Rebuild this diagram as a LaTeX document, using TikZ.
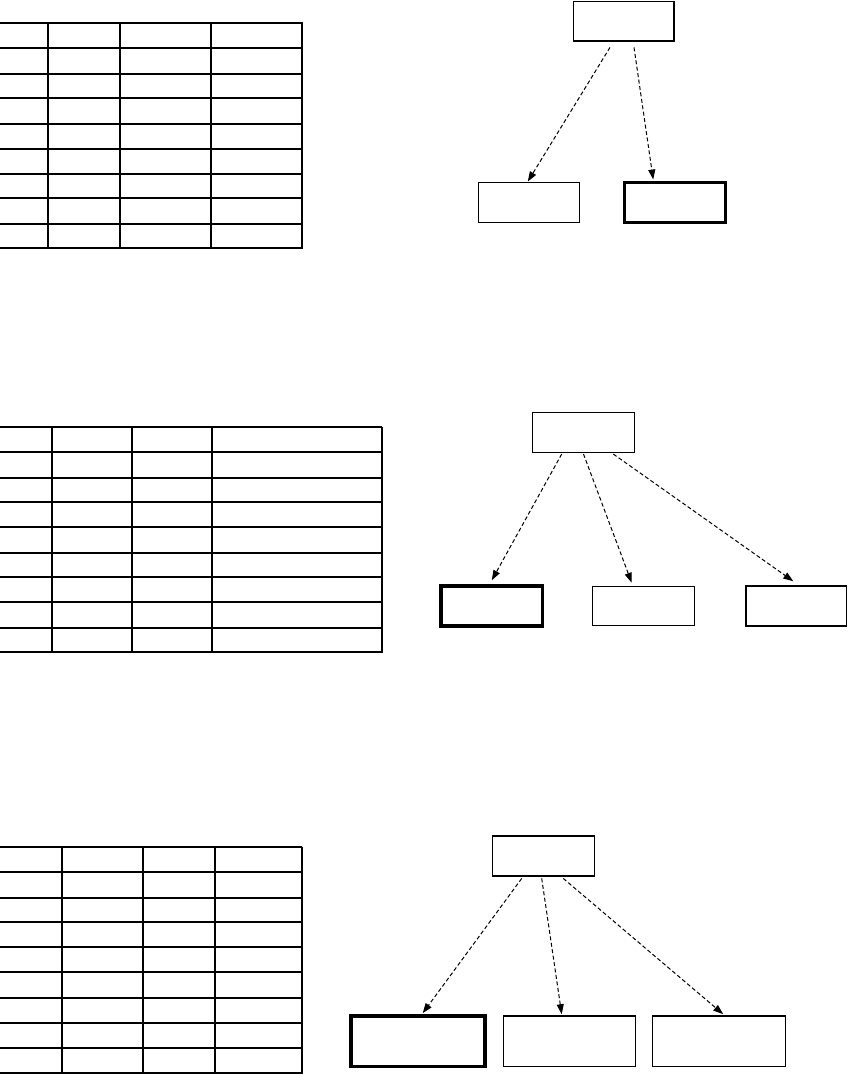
\documentclass[tikz,border=0pt]{standalone}
\usetikzlibrary{arrows.meta}
\begin{document}
\begin{tikzpicture}[x=1pt,y=-1pt,
  box/.style={draw,line width=1.5pt,rectangle,inner sep=0pt},
  thickbox/.style={draw,line width=3.5pt,rectangle,inner sep=0pt},
  arr/.style={line width=1pt,dash pattern=on 4pt off 2.5pt,-{Triangle[length=10pt,width=7pt]}},
  grid/.style={line width=1.7pt},
  edge/.style={line width=2.4pt}]
\useasboundingbox (0,0) rectangle (848,1075);
% ---------- table 1
\foreach \y in {23.3,48.3,74.3,98.3,123.7,149.3,173.7,198.3,224,248.3}
  \draw[grid] (0,\y) -- (301.7,\y);
\foreach \x in {48.3,120.3,211}
  \draw[grid] (\x,23.3) -- (\x,248.3);
\draw[edge] (301.7,22.5) -- (301.7,249.2);
% ---------- table 2
\foreach \y in {427.3,452.3,477.7,502.3,527.3,552.7,577.3,602.3,627.7,651.7}
  \draw[grid] (0,\y) -- (381.7,\y);
\foreach \x in {52.3,132.3,212.3}
  \draw[grid] (\x,427.3) -- (\x,651.7);
\draw[edge] (381.7,426.5) -- (381.7,652.6);
% ---------- table 3
\foreach \y in {847.3,872.3,897.7,922.3,947.3,972.3,997.7,1022.7,1048.3,1073.3}
  \draw[grid] (0,\y) -- (301.7,\y);
\foreach \x in {62.3,143.3,215}
  \draw[grid] (\x,847.3) -- (\x,1073.3);
\draw[edge] (301.7,846.5) -- (301.7,1074.2);
% ---------- tree 1
\node[box,minimum width=100.7pt,minimum height=39.3pt] (r1) at (623.7,21.3) {};
\node[box,minimum width=101pt,minimum height=40.4pt] (c1a) at (528.8,202.5) {};
\node[thickbox,minimum width=101pt,minimum height=40.4pt] (c1b) at (675.2,202.5) {};
\draw[arr] ([xshift=-13.7pt,yshift=-5.7pt]r1.south) -- ([xshift=-1pt]c1a.north);
\draw[arr] ([xshift=10.3pt,yshift=-5.7pt]r1.south) -- ([xshift=-22pt,yshift=1pt]c1b.north);
% ---------- tree 2
\node[box,minimum width=101.6pt,minimum height=40pt] (r2) at (583.5,432.3) {};
\node[thickbox,minimum width=101.7pt,minimum height=40pt] (d1) at (491.8,606) {};
\node[box,minimum width=101.6pt,minimum height=39pt] (d2) at (643.5,606) {};
\node[box,minimum width=100.7pt,minimum height=40pt] (d3) at (796.3,606) {};
\draw[arr] ([xshift=-21.8pt,yshift=-1pt]r2.south) -- ([yshift=4pt]d1.north);
\draw[arr] ([yshift=-1pt]r2.south) -- ([xshift=-11.8pt,yshift=3pt]d2.north);
\draw[arr] ([xshift=29.8pt,yshift=-1pt]r2.south) -- ([xshift=-3pt,yshift=4pt]d3.north);
% ---------- tree 3
\node[box,minimum width=101.6pt,minimum height=40pt] (r3) at (543.5,856) {};
\node[thickbox,minimum width=134pt,minimum height=50.7pt] (e1) at (418,1041.3) {};
\node[box,minimum width=132.4pt,minimum height=50.7pt] (e2) at (569.5,1041.3) {};
\node[box,minimum width=133pt,minimum height=50.7pt] (e3) at (719.2,1041.3) {};
\draw[arr] ([xshift=-21.8pt,yshift=-1.7pt]r3.south) -- ([xshift=4.7pt,yshift=1pt]e1.north);
\draw[arr] ([xshift=-1.8pt,yshift=-1.7pt]r3.south) -- ([xshift=-7.8pt,yshift=1pt]e2.north);
\draw[arr] ([xshift=19.8pt,yshift=-1.7pt]r3.south) -- ([xshift=4pt,yshift=1pt]e3.north);
\end{tikzpicture}
\end{document}
